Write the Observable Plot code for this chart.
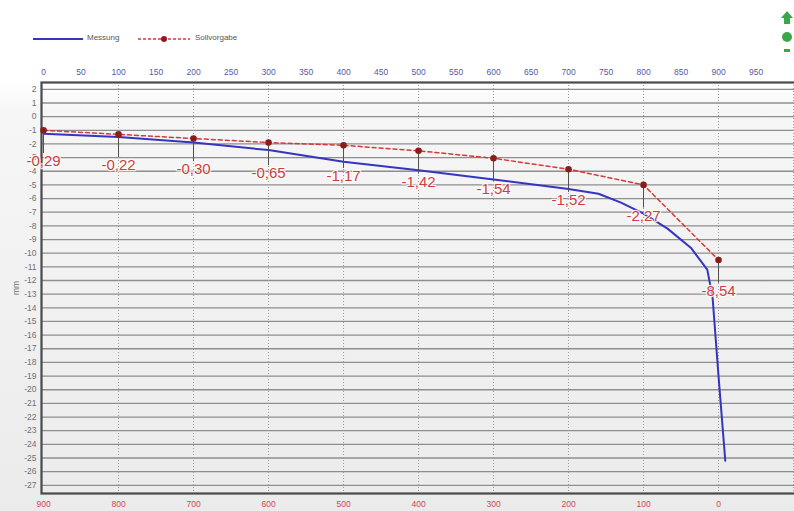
<!DOCTYPE html>
<html>
<head>
<meta charset="utf-8">
<script src="https://cdn.jsdelivr.net/npm/d3@7"></script>
<script src="https://cdn.jsdelivr.net/npm/@observablehq/plot@0.6"></script>
<style>
  html, body { margin: 0; padding: 0; background: #ffffff; overflow: hidden; width: 794px; height: 511px; }
  #legend { position: relative; height: 52px; width: 794px; font-family: "Liberation Sans", Arial, sans-serif; font-size: 8px; color: #555; }
  #legend .item { position: absolute; top: 33px; }
  #chart { position: relative; width: 794px; }
  #chart svg { background: linear-gradient(to bottom, #ffffff 0px, #ffffff 28px, #f6f6f6 60px, #ebebeb 459px) !important; }
</style>
</head>
<body>
<div id="legend">
  <svg style="position:absolute;left:30px;top:34px" width="56" height="10"><line x1="3" y1="5" x2="53" y2="5" stroke="#3535c0" stroke-width="2"/></svg>
  <span class="item" style="left:87px">Messung</span>
  <svg style="position:absolute;left:135px;top:34px" width="58" height="10"><line x1="3" y1="5" x2="55" y2="5" stroke="#d43a3a" stroke-width="1.5" stroke-dasharray="3,2"/><circle cx="29" cy="5" r="3" fill="#8b1c1c"/></svg>
  <span class="item" style="left:195px">Sollvorgabe</span>
  <svg style="position:absolute;left:780px;top:10px" width="14" height="56">
    <path d="M7 1 L13 8 L10 8 L10 14 L4 14 L4 8 L1 8 Z" fill="#3aa84a"/>
    <circle cx="7" cy="27" r="5" fill="#3aa84a"/>
    <path d="M7 52 L13 45 L10 45 L10 39 L4 39 L4 45 L1 45 Z" fill="#3aa84a"/>
  </svg>
</div>
<div id="chart"></div>
<script>
// Stationen (obere Achse) und Sollvorgabe
const stations = [0, 100, 200, 300, 400, 500, 600, 700, 800, 900];
const sollValues = [-1.0, -1.3, -1.6, -1.9, -2.1, -2.5, -3.05, -3.85, -5.0, -10.5];
const diffLabels = ["-0,29", "-0,22", "-0,30", "-0,65", "-1,17", "-1,42", "-1,54", "-1,52", "-2,27", "-8,54"];

// Messung (blaue Linie)
const messX = [0, 100, 200, 300, 400, 500, 600, 700, 740, 770, 800, 832, 863, 885, 892, 900, 909];
const messY = [-1.25, -1.5, -1.9, -2.45, -3.3, -3.93, -4.6, -5.3, -5.65, -6.3, -7.1, -8.2, -9.6, -11.2, -13.2, -19.0, -25.2];

// Achsen
const topTicks = d3.range(0, 1000, 50);
const bottomTicks = [0, 100, 200, 300, 400, 500, 600, 700, 800, 900];
const bottomLabels = ["900", "800", "700", "600", "500", "400", "300", "200", "100", "0"];
const yTicks = d3.range(-27, 3, 1);
const vGrid = [100, 200, 300, 400, 500, 600, 700, 800, 900, 1000];

const soll = stations.map((s, i) => ({x: s, y: sollValues[i], label: diffLabels[i]}));
const mess = messX.map((x, i) => ({x, y: messY[i]}));

const chart = Plot.plot({
  width: 794,
  height: 459,
  marginLeft: 41,
  marginRight: -3,
  marginTop: 30,
  marginBottom: 18,
  style: {fontFamily: "Liberation Sans, Arial, sans-serif", overflow: "visible"},
  x: {domain: [-2.7, 1005.3]},
  y: {domain: [-27.6, 2.5]},
  marks: [
    Plot.gridY(yTicks, {stroke: "#8e8e8e", strokeOpacity: 1, strokeWidth: 1.3}),
    Plot.gridX(vGrid, {stroke: "#9a9a9a", strokeOpacity: 1, strokeDasharray: "1,2"}),
    Plot.frame({stroke: "#4a4a4a", strokeWidth: 2.2}),
    Plot.axisX({anchor: "top", ticks: topTicks, tickSize: 0, tickPadding: 8, fontSize: 8.5, fill: "#5858a8", label: null, tickFormat: d => String(d)}),
    Plot.axisX({anchor: "bottom", ticks: bottomTicks, tickSize: 0, tickPadding: 7, fontSize: 8.5, fill: "#d04656", label: null, tickFormat: (d, i) => bottomLabels[i]}),
    Plot.axisY({ticks: yTicks, tickSize: 0, tickPadding: 5, fontSize: 8.5, fill: "#707070", label: "mm", labelAnchor: "center", labelOffset: 29, labelArrow: "none", tickFormat: d => String(d)}),
    Plot.line(soll, {x: "x", y: "y", stroke: "#d43a3a", strokeWidth: 1.5, strokeDasharray: "4,3"}),
    Plot.line(mess, {x: "x", y: "y", stroke: "#3535c0", strokeWidth: 2}),
    Plot.ruleX(soll, {x: "x", y1: "y", y2: d => d.y - 1.7, stroke: "#505050", strokeWidth: 1}),
    Plot.dot(soll, {x: "x", y: "y", r: 3.3, fill: "#8b1c1c"}),
    Plot.text(soll, {x: "x", y: "y", dy: 31, text: "label", fill: "#d03c3c", fontSize: 15, stroke: "#ffffff", strokeWidth: 2.5, strokeOpacity: 0.8})
  ]
});
document.getElementById("chart").appendChild(chart);
</script>
</body>
</html>
